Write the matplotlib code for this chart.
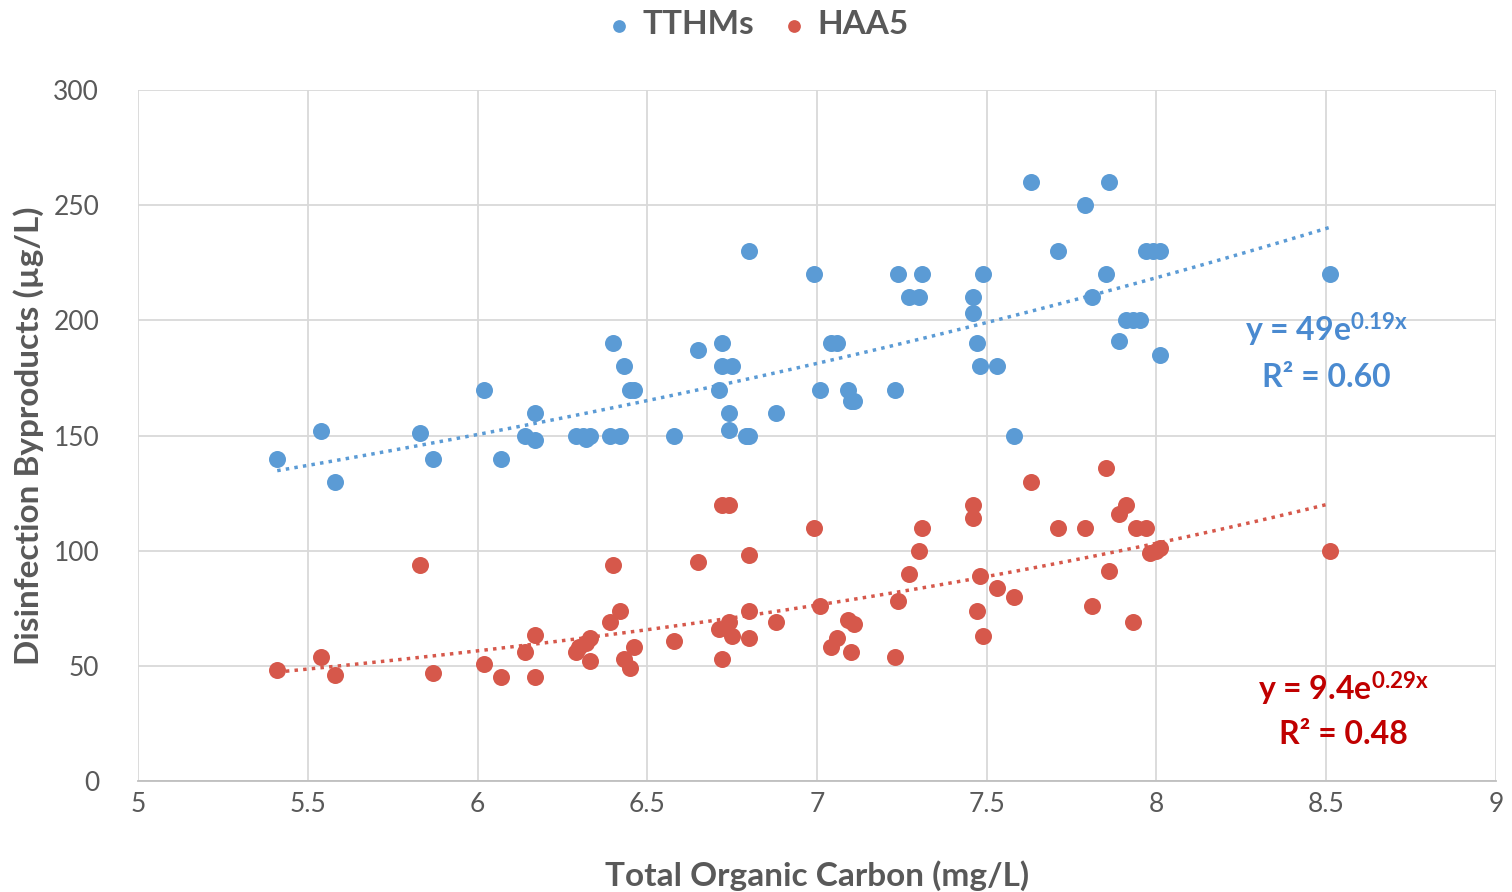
import matplotlib
matplotlib.use("Agg")
import matplotlib.pyplot as plt
import numpy as np

plt.rcParams["font.family"] = ["Lato", "DejaVu Sans"]
plt.rcParams["mathtext.fontset"] = "custom"
plt.rcParams["mathtext.rm"] = "Lato:bold"
plt.rcParams["mathtext.it"] = "Lato:bold"
plt.rcParams["mathtext.bf"] = "Lato:bold"

# TOC (mg/L) vs disinfection byproducts (ug/L)
toc_tthm = [5.41, 5.54, 5.58, 5.83, 5.87, 6.02, 6.07, 6.14, 6.17, 6.17,
            6.29, 6.31, 6.32, 6.33, 6.39, 6.42, 6.40, 6.43, 6.45, 6.46,
            6.58, 6.65, 6.72, 6.72, 6.75, 6.71, 6.74, 6.74, 6.79, 6.80,
            6.80, 6.88, 6.99, 7.01, 7.04, 7.06, 7.09, 7.10, 7.11, 7.23,
            7.24, 7.27, 7.30, 7.31, 7.46, 7.46, 7.47, 7.48, 7.49, 7.53,
            7.58, 7.63, 7.71, 7.79, 7.81, 7.85, 7.86, 7.89, 7.91, 7.93,
            7.95, 7.97, 7.99, 8.01, 8.01, 8.51]
tthm = [140, 152, 130, 151, 140, 170, 140, 150, 160, 148,
        150, 150, 148.5, 150, 150, 150, 190, 180, 170, 170,
        150, 187, 190, 180, 180, 170, 160, 152.5, 150, 150,
        230, 160, 220, 170, 190, 190, 170, 165, 165, 170,
        220, 210, 210, 220, 210, 203, 190, 180, 220, 180,
        150, 260, 230, 250, 210, 220, 260, 191, 200, 200,
        200, 230, 230, 230, 185, 220]

toc_haa5 = [5.41, 5.54, 5.58, 5.83, 5.87, 6.02, 6.07, 6.14, 6.17, 6.17,
            6.29, 6.30, 6.32, 6.33, 6.33, 6.39, 6.42, 6.40, 6.43, 6.45,
            6.46, 6.58, 6.65, 6.72, 6.74, 6.71, 6.74, 6.75, 6.72, 6.80,
            6.80, 6.80, 6.88, 6.99, 7.01, 7.04, 7.06, 7.09, 7.11, 7.10,
            7.23, 7.24, 7.27, 7.30, 7.31, 7.46, 7.46, 7.47, 7.48, 7.49,
            7.53, 7.58, 7.63, 7.71, 7.79, 7.81, 7.85, 7.86, 7.89, 7.91,
            7.93, 7.94, 7.97, 7.98, 8.00, 8.01, 8.51]
haa5 = [48, 54, 46, 94, 47, 51, 45, 56, 63.5, 45,
        56, 58, 60, 62, 52, 69, 74, 94, 53, 49,
        58, 61, 95, 120, 120, 66, 69, 63, 53, 98,
        74, 62, 69, 110, 76, 58, 62, 70, 68, 56,
        54, 78, 90, 100, 110, 120, 114, 74, 89, 63,
        84, 80, 130, 110, 110, 76, 136, 91, 116, 120,
        69, 110, 110, 99, 100, 101, 100]

blue = "#5B9BD5"
red = "#D6584B"
blue_txt = "#4A8AD0"
red_txt = "#C00000"
gray = "#595959"

fig = plt.figure(figsize=(15.12, 8.92), dpi=100)
ax = fig.add_axes([0.0913, 0.1244, 0.8981, 0.7746])

ax.scatter(toc_tthm, tthm, s=150, color=blue, zorder=3, linewidths=0, label="TTHMs")
ax.scatter(toc_haa5, haa5, s=150, color=red, zorder=3, linewidths=0, label="HAA5")

# exponential trendlines: fit ln(y) = ln(a) + b*x
for xs, ys, c in [(toc_tthm, tthm, blue), (toc_haa5, haa5, red)]:
    xs = np.asarray(xs)
    b, ln_a = np.polyfit(xs, np.log(ys), 1)
    xx = np.linspace(xs.min(), xs.max(), 100)
    ax.plot(xx, np.exp(ln_a) * np.exp(b * xx), color=c, lw=2.5,
            ls=(0, (1, 1.5)), zorder=2)

ax.set_xlim(5, 9)
ax.set_ylim(0, 300)
ax.set_xticks(np.arange(5, 9.01, 0.5))
ax.set_xticklabels(["5", "5.5", "6", "6.5", "7", "7.5", "8", "8.5", "9"])
ax.set_yticks(np.arange(0, 301, 50))
ax.grid(True, color="#D9D9D9", lw=1.3)
ax.set_axisbelow(True)
for side in ["top", "right", "left"]:
    ax.spines[side].set_visible(False)
ax.spines["bottom"].set_color("#BFBFBF")
ax.spines["bottom"].set_linewidth(1.3)
ax.tick_params(axis="both", length=0, labelsize=19, colors=gray)
ax.tick_params(axis="y", pad=28)
ax.tick_params(axis="x", pad=8)

ax.set_xlabel("Total Organic Carbon (mg/L)", fontsize=24, fontweight="bold",
              color=gray, labelpad=31)
ax.set_ylabel("Disinfection Byproducts (µg/L)", fontsize=24, fontweight="bold",
              color=gray)
ax.yaxis.set_label_coords(-0.069, 0.5)

# trendline equations
ax.text(8.5, 196, r"y = 49e$^{0.19x}$", color=blue_txt, fontsize=23,
        fontweight="bold", ha="center", va="center")
ax.text(8.5, 175, "R² = 0.60", color=blue_txt, fontsize=23,
        fontweight="bold", ha="center", va="center")
ax.text(8.55, 40, r"y = 9.4e$^{0.29x}$", color=red_txt, fontsize=23,
        fontweight="bold", ha="center", va="center")
ax.text(8.55, 20, "R² = 0.48", color=red_txt, fontsize=23,
        fontweight="bold", ha="center", va="center")

fig.legend(loc="upper center", bbox_to_anchor=(0.494, 1.022), ncol=2, frameon=False,
           prop={"weight": "bold", "size": 24}, labelcolor=gray,
           handletextpad=-0.3, columnspacing=0.2, markerscale=0.75)

fig.savefig("out.png", dpi=100)
